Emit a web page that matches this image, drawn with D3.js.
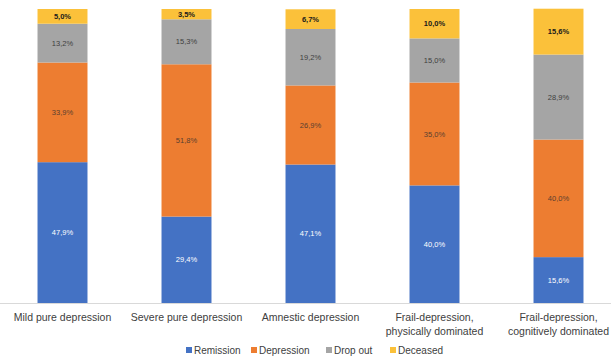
<!DOCTYPE html>
<html>
<head>
<meta charset="utf-8">
<script src="https://cdn.jsdelivr.net/npm/d3@7"></script>
<style>
  body { margin: 0; background: #fff; }
  svg { display: block; font-family: "Liberation Sans", Arial, sans-serif; }
</style>
</head>
<body>
<div id="chart"></div>
<script>
const categories = [
  ['Mild pure depression'],
  ['Severe pure depression'],
  ['Amnestic depression'],
  ['Frail-depression,', 'physically dominated'],
  ['Frail-depression,', 'cognitively dominated']
];
const seriesNames = ['Remission', 'Depression', 'Drop out', 'Deceased'];
const remission = [47.9, 29.4, 47.1, 40.0, 15.6];
const depression = [33.9, 51.8, 26.9, 35.0, 40.0];
const dropOut = [13.2, 15.3, 19.2, 15.0, 28.9];
const deceased = [5.0, 3.5, 6.7, 10.0, 15.6];

const colors = ['#4472C4', '#ED7D31', '#A5A5A5', '#FBC13A'];
const labelColors = ['#ffffff', '#5a4030', '#404040', '#1a1a1a'];
const labelWeights = ['normal', 'normal', 'normal', 'bold'];

const width = 611, height = 359;
const svg = d3.select('#chart').append('svg')
  .attr('width', width)
  .attr('height', height);

const rows = categories.map((c, i) => ({
  key: i,
  Remission: remission[i],
  Depression: depression[i],
  'Drop out': dropOut[i],
  Deceased: deceased[i]
}));

const stack = d3.stack().keys(seriesNames);
const layers = stack(rows);

const x = d3.scaleBand()
  .domain(d3.range(categories.length))
  .range([0.5, 620.5])
  .paddingInner(0.597)
  .paddingOuter(0.2985);

const y = d3.scaleLinear()
  .domain([0, 100])
  .range([303, 9]);

// baseline
svg.append('line')
  .attr('x1', 0).attr('x2', width)
  .attr('y1', y(0) + 0.5).attr('y2', y(0) + 0.5)
  .attr('stroke', '#d9d9d9')
  .attr('stroke-width', 1);

const layerG = svg.selectAll('.layer')
  .data(layers)
  .enter().append('g')
  .attr('class', 'layer')
  .attr('fill', (d, i) => colors[i]);

layerG.selectAll('rect')
  .data(d => d)
  .enter().append('rect')
  .attr('x', (d, i) => x(i))
  .attr('y', d => y(d[1]))
  .attr('width', x.bandwidth())
  .attr('height', d => y(d[0]) - y(d[1]));

layerG.each(function(layer, li) {
  d3.select(this).selectAll('text')
    .data(layer)
    .enter().append('text')
    .attr('x', (d, i) => x(i) + x.bandwidth() / 2)
    .attr('y', d => (y(d[0]) + y(d[1])) / 2)
    .attr('dy', '0.35em')
    .attr('text-anchor', 'middle')
    .style('font-size', '7.5px')
    .style('font-weight', labelWeights[li])
    .style('fill', labelColors[li])
    .text(d => (d[1] - d[0]).toFixed(1).replace('.', ',') + '%');
});

// category labels
const catG = svg.append('g');
categories.forEach((lines, i) => {
  const t = catG.append('text')
    .attr('x', x(i) + x.bandwidth() / 2)
    .attr('y', 321)
    .attr('text-anchor', 'middle')
    .style('font-size', '10.5px')
    .style('fill', '#404040');
  lines.forEach((l, j) => {
    t.append('tspan')
      .attr('x', x(i) + x.bandwidth() / 2)
      .attr('dy', j === 0 ? 0 : 13.5)
      .text(l);
  });
});

// legend
const legendX = [186, 251, 326, 390];
const legend = svg.append('g');
seriesNames.forEach((name, i) => {
  const g = legend.append('g').attr('transform', `translate(${legendX[i]},350)`);
  g.append('rect')
    .attr('x', 0).attr('y', -3)
    .attr('width', 6).attr('height', 6)
    .attr('fill', colors[i]);
  g.append('text')
    .attr('x', 8).attr('y', 0)
    .attr('dy', '0.35em')
    .style('font-size', '10px')
    .style('fill', '#404040')
    .text(name);
});
</script>
</body>
</html>
